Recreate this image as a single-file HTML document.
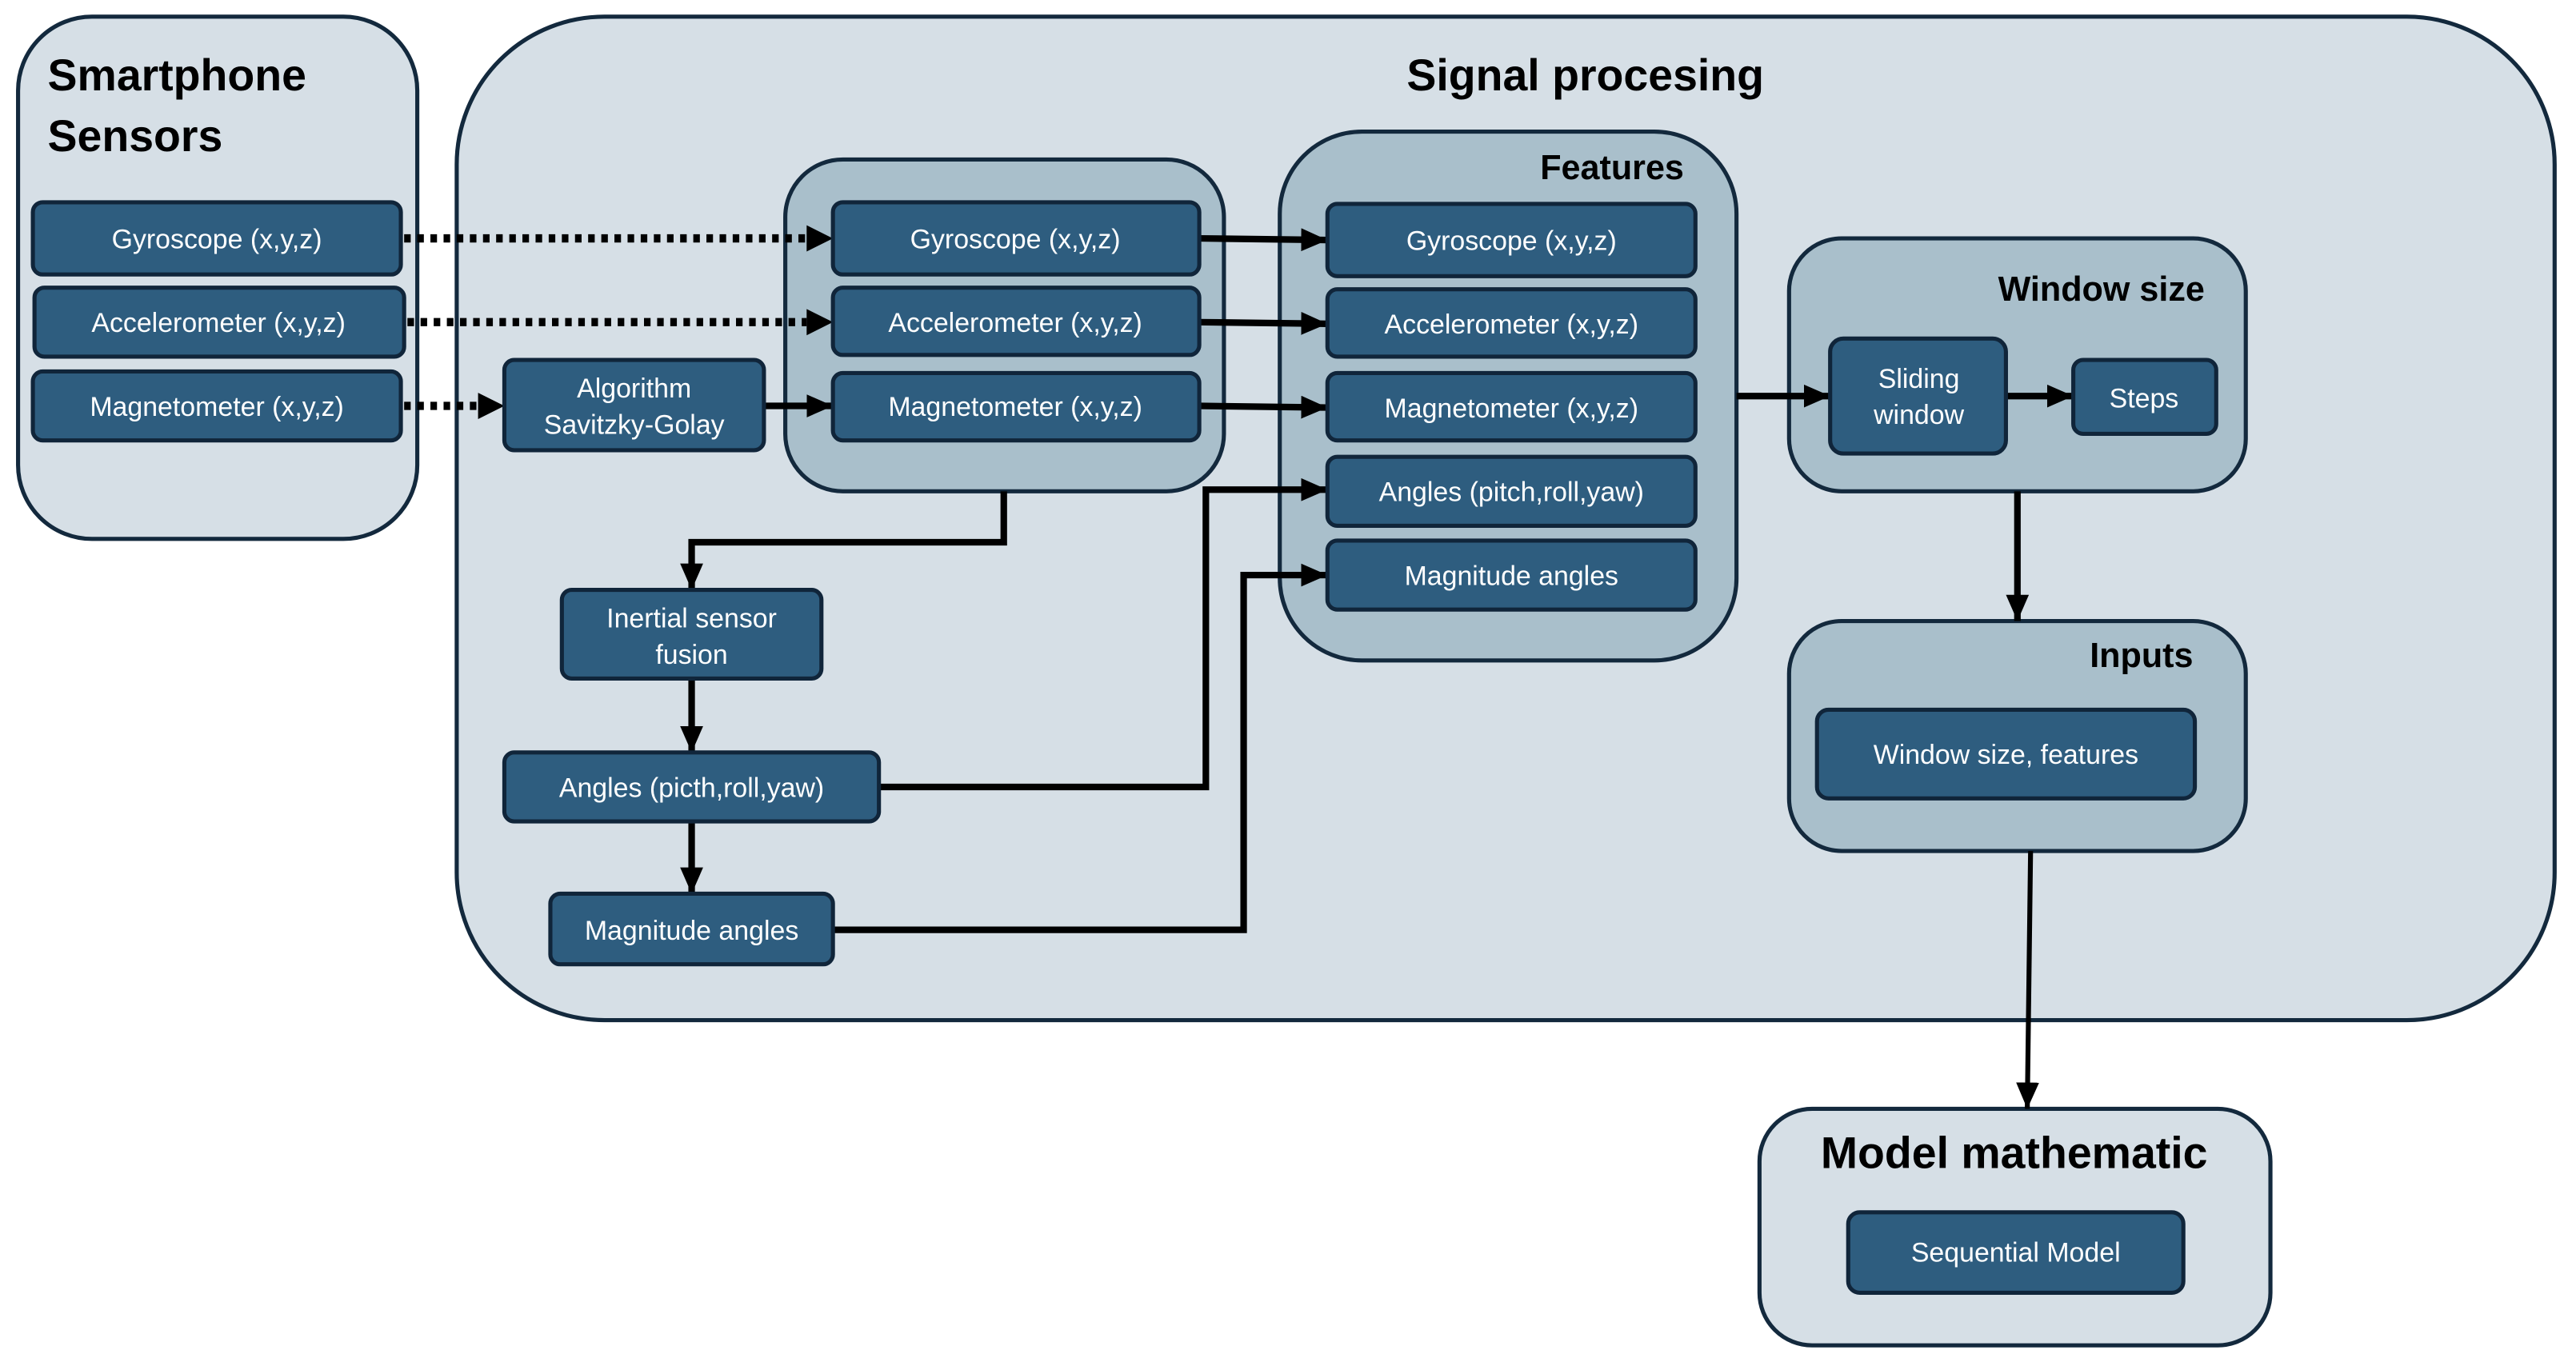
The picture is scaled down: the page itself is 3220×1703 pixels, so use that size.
<!DOCTYPE html>
<html><head><meta charset="utf-8"><style>
html,body{margin:0;padding:0;background:#fff;}
svg{display:block;}
text{font-family:"Liberation Sans",sans-serif;}
.t{font-weight:bold;fill:#000;font-size:27px;}
.b{fill:#2e5d7f;stroke:#10253a;stroke-width:2.5;}
.l{fill:#fff;font-size:16.5px;text-anchor:middle;}
.c{fill:#d6dfe6;stroke:#13293d;stroke-width:2.5;}
.g{fill:#a9bfcb;stroke:#13293d;stroke-width:2.5;}
.a{fill:none;stroke:#000;stroke-width:4;}
.d{fill:none;stroke:#000;stroke-width:5;stroke-dasharray:4 4;}
</style></head><body>
<svg width="3220" height="1703" viewBox="0 0 1568 829" xmlns="http://www.w3.org/2000/svg">
<defs>
<marker id="m" markerUnits="userSpaceOnUse" markerWidth="16" markerHeight="14" refX="16" refY="7" orient="auto"><path d="M0,0 L16,7 L0,14 Z" fill="#000"/></marker>
</defs>
<!-- containers -->
<rect class="c" x="11" y="10" width="243" height="318" rx="45"/>
<text class="t" x="29" y="55">Smartphone</text>
<text class="t" x="29" y="92">Sensors</text>
<rect class="c" x="278" y="10" width="1277" height="611" rx="90"/>
<text class="t" x="965" y="55" text-anchor="middle">Signal procesing</text>
<rect class="g" x="478" y="97" width="267" height="202" rx="35"/>
<rect class="g" x="779" y="80" width="278" height="322" rx="50"/>
<text class="t" x="1025" y="109" text-anchor="end" style="font-size:21px">Features</text>
<rect class="g" x="1089" y="145" width="278" height="154" rx="32"/>
<text class="t" x="1342" y="183" text-anchor="end" style="font-size:21px">Window size</text>
<rect class="g" x="1089" y="378" width="278" height="140" rx="32"/>
<text class="t" x="1335" y="406" text-anchor="end" style="font-size:21px">Inputs</text>
<rect class="c" x="1071" y="675" width="311" height="144" rx="32"/>
<text class="t" x="1226" y="711" text-anchor="middle">Model mathematic</text>

<!-- connectors -->
<line class="d" x1="246" y1="145" x2="491" y2="145"/><path d="M491,137 L507,145 L491,153Z"/>
<line class="d" x1="248" y1="196" x2="491" y2="196"/><path d="M491,188 L507,196 L491,204Z"/>
<line class="d" x1="246" y1="247" x2="291" y2="247"/><path d="M291,239 L307,247 L291,255Z"/>
<line class="a" x1="465" y1="247" x2="507" y2="247" marker-end="url(#m)"/>
<line class="a" x1="730" y1="145" x2="808" y2="146" marker-end="url(#m)"/>
<line class="a" x1="730" y1="196" x2="808" y2="197" marker-end="url(#m)"/>
<line class="a" x1="730" y1="247" x2="808" y2="248" marker-end="url(#m)"/>
<polyline class="a" points="611,299 611,330 421,330 421,359" marker-end="url(#m)"/>
<line class="a" x1="421" y1="413" x2="421" y2="458" marker-end="url(#m)"/>
<line class="a" x1="421" y1="500" x2="421" y2="544" marker-end="url(#m)"/>
<polyline class="a" points="535,479 734,479 734,298 808,298" marker-end="url(#m)"/>
<polyline class="a" points="507,566 757,566 757,350 808,350" marker-end="url(#m)"/>
<line class="a" x1="1057" y1="241" x2="1114" y2="241" marker-end="url(#m)"/>
<line class="a" x1="1221" y1="241" x2="1262" y2="241" marker-end="url(#m)"/>
<line class="a" x1="1228" y1="299" x2="1228" y2="378" marker-end="url(#m)"/>
<line class="a" style="stroke-width:3" x1="1236" y1="518" x2="1234" y2="675" marker-end="url(#m)"/>

<!-- boxes -->
<rect class="b" x="20" y="123" width="224" height="44" rx="6"/><text class="l" x="132" y="151">Gyroscope (x,y,z)</text>
<rect class="b" x="21" y="175" width="225" height="42" rx="6"/><text class="l" x="133" y="202">Accelerometer (x,y,z)</text>
<rect class="b" x="20" y="226" width="224" height="42" rx="6"/><text class="l" x="132" y="253">Magnetometer (x,y,z)</text>

<rect class="b" x="507" y="123" width="223" height="44" rx="6"/><text class="l" x="618" y="151">Gyroscope (x,y,z)</text>
<rect class="b" x="507" y="175" width="223" height="41" rx="6"/><text class="l" x="618" y="202">Accelerometer (x,y,z)</text>
<rect class="b" x="507" y="227" width="223" height="41" rx="6"/><text class="l" x="618" y="253">Magnetometer (x,y,z)</text>

<rect class="b" x="307" y="219" width="158" height="55" rx="6"/><text class="l" x="386" y="242">Algorithm</text><text class="l" x="386" y="264">Savitzky-Golay</text>

<rect class="b" x="808" y="124" width="224" height="44" rx="6"/><text class="l" x="920" y="152">Gyroscope (x,y,z)</text>
<rect class="b" x="808" y="176" width="224" height="41" rx="6"/><text class="l" x="920" y="203">Accelerometer (x,y,z)</text>
<rect class="b" x="808" y="227" width="224" height="41" rx="6"/><text class="l" x="920" y="254">Magnetometer (x,y,z)</text>
<rect class="b" x="808" y="278" width="224" height="42" rx="6"/><text class="l" x="920" y="305">Angles (pitch,roll,yaw)</text>
<rect class="b" x="808" y="329" width="224" height="42" rx="6"/><text class="l" x="920" y="356">Magnitude angles</text>

<rect class="b" x="1114" y="206" width="107" height="70" rx="8"/><text class="l" x="1168" y="236">Sliding</text><text class="l" x="1168" y="258">window</text>
<rect class="b" x="1262" y="219" width="87" height="45" rx="6"/><text class="l" x="1305" y="248">Steps</text>

<rect class="b" x="1106" y="432" width="230" height="54" rx="7"/><text class="l" x="1221" y="465">Window size, features</text>
<rect class="b" x="1125" y="738" width="204" height="49" rx="7"/><text class="l" x="1227" y="768">Sequential Model</text>

<rect class="b" x="342" y="359" width="158" height="54" rx="6"/><text class="l" x="421" y="382">Inertial sensor</text><text class="l" x="421" y="404">fusion</text>
<rect class="b" x="307" y="458" width="228" height="42" rx="6"/><text class="l" x="421" y="485">Angles (picth,roll,yaw)</text>
<rect class="b" x="335" y="544" width="172" height="43" rx="6"/><text class="l" x="421" y="572">Magnitude angles</text>
</svg>
</body></html>
